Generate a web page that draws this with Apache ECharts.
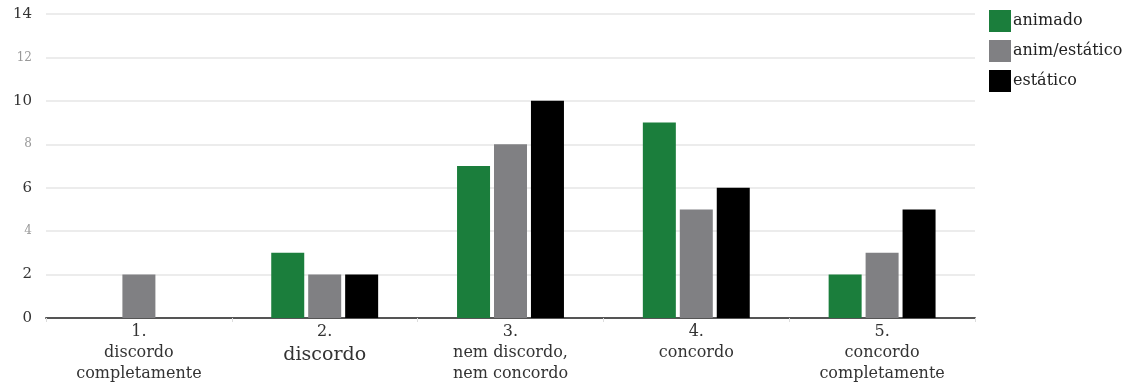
<!DOCTYPE html>
<html>
<head>
<meta charset="utf-8">
<script src="https://cdn.jsdelivr.net/npm/echarts@6/dist/echarts.min.js"></script>
<style>
  html, body { margin: 0; padding: 0; background: #fff; }
  #chart { width: 1134px; height: 387px; }
</style>
</head>
<body>
<div id="chart"></div>
<script>
// Survey answers per response level
const categories = ['1.\ndiscordo\ncompletamente', '2.\ndiscordo', '3.\nnem discordo,\nnem concordo', '4.\nconcordo', '5.\nconcordo\ncompletamente'];
const seriesNames = ['animado', 'anim/estático', 'estático'];
const animado = [0, 3, 7, 9, 2];
const animEstatico = [2, 2, 8, 5, 3];
const estatico = [0, 2, 10, 6, 5];
const colors = ['#1b7e3c', '#808083', '#000000'];

const chart = echarts.init(document.getElementById('chart'));
const serif = '"DejaVu Serif", "Liberation Serif", serif';

function bar(name, data, color) {
  return {
    name: name,
    type: 'bar',
    data: data.map(v => v === 0 ? null : v),
    barWidth: 33,
    barGap: '12%',
    itemStyle: { color: color },
    animation: false
  };
}

// Category labels: the word under level 2 is set a little larger
function catLabel(value, index) {
  const lines = value.split('\n');
  return lines.map((l, i) => (index === 1 && i === 1 ? '{big|' : '{n|') + l + '}').join('\n');
}

chart.setOption({
  animation: false,
  textStyle: { fontFamily: serif },
  legend: {
    orient: 'vertical',
    left: 984,
    top: 5,
    itemWidth: 22,
    itemHeight: 22,
    itemGap: 8,
    icon: 'rect',
    textStyle: { fontFamily: serif, fontSize: 16, color: '#222', padding: [0, 0, 0, -3] },
    data: seriesNames
  },
  grid: { left: 46, right: 159, top: 14, bottom: 69 },
  xAxis: {
    type: 'category',
    data: categories,
    axisLine: { lineStyle: { color: '#555', width: 2 } },
    axisTick: { show: true, length: 4, lineStyle: { color: '#ddd' } },
    axisLabel: {
      fontFamily: serif,
      color: '#333',
      margin: 3,
      interval: 0,
      formatter: catLabel,
      rich: {
        n: { fontFamily: serif, fontSize: 16, color: '#333', lineHeight: 21, align: 'center' },
        big: { fontFamily: serif, fontSize: 19, color: '#333', lineHeight: 26, align: 'center' }
      }
    }
  },
  yAxis: {
    type: 'value',
    min: 0,
    max: 14,
    interval: 2,
    axisLine: { show: false },
    axisTick: { show: false },
    splitLine: { lineStyle: { color: '#ececec', width: 2 } },
    axisLabel: {
      margin: 14,
      fontFamily: serif,
      formatter: v => (v % 4 === 0 && v !== 0) ? '{l|' + v + '}' : '{d|' + v + '}',
      rich: {
        d: { fontFamily: serif, fontSize: 15, color: '#333' },
        l: { fontFamily: serif, fontSize: 12, color: '#999' }
      }
    }
  },
  series: [
    bar(seriesNames[0], animado, colors[0]),
    bar(seriesNames[1], animEstatico, colors[1]),
    bar(seriesNames[2], estatico, colors[2])
  ]
});
</script>
</body>
</html>
